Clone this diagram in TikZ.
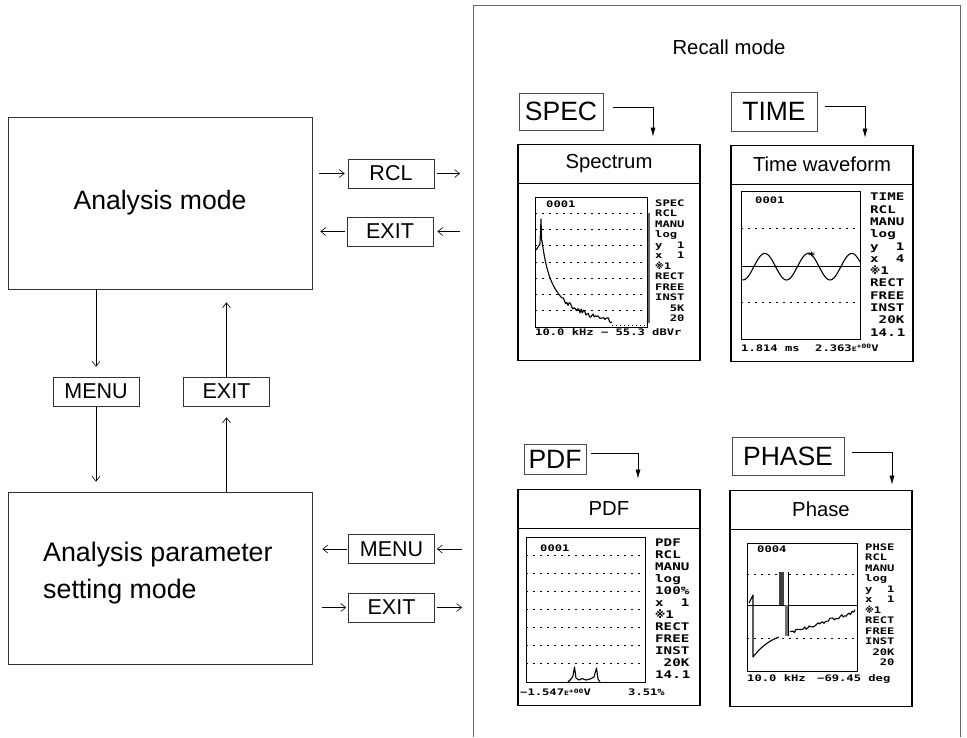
\documentclass[tikz,border=0pt]{standalone}
\usepackage{fontspec}
\setmainfont{Liberation Sans}
\newfontfamily\lcdfont[FakeStretch=1.35]{DejaVu Sans Mono}
\newfontfamily\markfont{DejaVu Sans}
\newcommand\refmark{{\markfont\bfseries ※}}
\usetikzlibrary{arrows.meta}
\begin{document}
\begin{tikzpicture}[x=1pt,y=-1pt,
  modebox/.style={draw=black!80,line width=.7pt,minimum width=304pt,minimum height=172pt,font=\fontsize{26.6}{37}\selectfont},
  keybox/.style={draw=black!80,line width=.7pt,minimum width=86pt,minimum height=29pt,inner sep=0pt,font=\fontsize{21.5}{24}\selectfont},
  bigkey/.style={draw=black!70,line width=.6pt,inner sep=0pt,font=\fontsize{26.5}{28}\selectfont},
  panel/.style={draw,line width=1.8pt,minimum width=182pt,minimum height=216pt,inner sep=0pt},
  titlebar/.style={draw,line width=.7pt,minimum width=182pt,minimum height=39pt,anchor=north,font=\fontsize{20.3}{22}\selectfont},
  lcd/.style={inner sep=0pt,anchor=base west,font=\lcdfont\bfseries\fontsize{#1}{#1}\selectfont},
  lcd/.default=9,
  arr/.style={-{Straight Barb[length=5pt,width=8pt]},line width=.6pt},
  keyarrow/.style={-{Latex[length=9pt,width=5pt]},line width=.6pt},
  lcdgrid/.style={dash pattern=on 1.5pt off 5.5pt,line width=.8pt},
  wave/.style={line width=1.1pt,line join=round}]
  \useasboundingbox (0,0) rectangle (967,737);
  \pgfmathsetseed{7}
  % left side: the two modes
  \node[modebox] (ana) at (160,203) {Analysis mode};
  \node[modebox] (par) at (160,578) {};
  \node[font=\fontsize{26.8}{37}\selectfont,align=left,anchor=west,inner sep=0pt] (partext) at (43,573) {Analysis parameter\\setting mode};
  \node[keybox] (rcl) at (391,173.5) {RCL};
  \node[keybox] (exa) at (390,231.5) {EXIT};
  \node[keybox] (menua) at (96,391.5) {MENU};
  \node[keybox] (exb) at (226.5,391.5) {EXIT};
  \node[keybox] (menub) at (391.5,549) {MENU};
  \node[keybox] (exc) at (391.5,607.5) {EXIT};
  % recall frame, open at the bottom
  \coordinate (fl) at (473,5);
  \draw[black!60,line width=.6pt] (473,737) -- (fl) -- (960,5) -- (960,737);
  \node[font=\fontsize{20.3}{22}\selectfont] (recall) at (729,47) {Recall mode};
  \draw[arr,shorten <=7pt,shorten >=3pt] (ana.east |- rcl) -- (rcl);
  \draw[arr,shorten <=3pt,shorten >=13pt] (rcl) -- (rcl -| fl);
  \draw[arr,shorten <=13pt,shorten >=4pt] (exa -| fl) -- (exa);
  \draw[arr,shorten <=2pt,shorten >=8pt] (exa) -- (ana.east |- exa);
  \draw[arr,shorten >=10pt] (ana.south -| menua) -- (menua);
  \draw[arr,shorten >=10pt] (menua) -- (par.north -| menua);
  \draw[arr,shorten >=11pt] (par.north -| exb) -- (exb);
  \draw[arr,shorten >=13pt] (exb) -- (ana.south -| exb);
  \draw[arr,shorten <=11pt,shorten >=2pt] (menub -| fl) -- (menub);
  \draw[arr,shorten <=1pt,shorten >=10pt] (menub) -- (par.east |- menub);
  \draw[arr,shorten <=10pt,shorten >=2pt] (par.east |- exc) -- (exc);
  \draw[arr,shorten <=2pt,shorten >=11pt] (exc) -- (exc -| fl);
  % the four screens
  \node[panel] (specp) at (609,252.5) {};
  \node[titlebar] (spect) at (specp.north) {Spectrum};
  \node[panel] (timep) at (822,253.5) {};
  \node[titlebar] (timet) at (timep.north) {Time waveform};
  \node[panel] (pdfp) at (609,597.5) {};
  \node[titlebar] (pdft) at (pdfp.north) {PDF};
  \node[panel] (phasep) at (821,598.5) {};
  \node[titlebar] (phaset) at (phasep.north) {Phase};
  \node[bigkey,minimum width=84pt,minimum height=37pt] (speck) at (561,111.5) {SPEC};
  \node[bigkey,minimum width=86pt,minimum height=39pt] (timek) at (774,111.5) {TIME};
  \node[bigkey,minimum width=62pt,minimum height=30pt] (pdfk) at (555,459) {PDF};
  \node[bigkey,minimum width=112pt,minimum height=38pt] (phasek) at (788,456) {PHASE};
  \draw[keyarrow,shorten <=10pt,shorten >=7pt] ([yshift=4pt]speck.east) -| ([xshift=44pt]specp.north);
  \draw[keyarrow,shorten <=8pt,shorten >=7pt] ([yshift=5pt]timek.east) -| ([xshift=43pt]timep.north);
  \draw[keyarrow,shorten <=5pt,shorten >=10pt] ([yshift=6pt]pdfk.east) -| ([xshift=29pt]pdfp.north);
  \draw[keyarrow,shorten <=8pt,shorten >=5pt] ([yshift=4pt]phasek.east) -| ([xshift=71pt]phasep.north);
  % spectrum screen
  \draw[line width=1pt] (535,197) rectangle (647,327);
  \foreach \k in {1,...,7} \draw[lcdgrid] (535,{197+\k*16.25}) -- (647,{197+\k*16.25});
  \draw[line width=2pt,black!60] (648.5,213) -- (648.5,323);
  \draw[wave] (536,250) -- (540,244) -- (541,219) -- (541.6,241)
    -- plot[domain=542:612,samples=60] (\x,{327-950/(\x-531)+0.08*(\x-541)+(\x>562)*2.2*rand});
  \draw[line width=.8pt,dash pattern=on 1pt off 3pt] (612,325) -- (645,325);
  \node[lcd] (specn) at (546,207.5) {0001};
  \foreach \t [count=\i] in {SPEC,RCL,MANU,log,y~~1,x~~1,\refmark1,RECT,FREE,INST,~~5K,~~20}
    \node[lcd] (spec\i) at (655,{206.3+(\i-1)*10.5}) {\t};
  \node[lcd] (specb) at (535,335.5) {10.0 kHz − 55.3 dBVr};
  % time waveform screen
  \draw[line width=1pt] (741,191) rectangle (860,339);
  \draw[lcdgrid] (741,228) -- (860,228) (741,302) -- (860,302);
  \draw[line width=1pt] (741,266.7) -- (860,266.7);
  \draw[wave] plot[domain=0:119,samples=90] ({741+\x},{266.7+13.3*cos(8.276*(\x-2))});
  \node[lcd=10] (star) at (807.5,259) {*};
  \node[lcd] (timen) at (755,203.3) {0001};
  \foreach \t [count=\i] in {TIME,RCL,MANU,log,y~~1,x~~4,\refmark1,RECT,FREE,INST,~20K,14.\kern1pt1}
    \node[lcd=10.5] (time\i) at (870,{200.8+(\i-1)*12.3}) {\t};
  \node[lcd] (timeb) at (741,351) {1.814 ms};
  \node[lcd] (timec) at (815,351) {2.363{\fontsize{6}{6}\selectfont E\raisebox{2.5pt}{+00}}V};
  % pdf screen
  \draw[line width=1pt] (526,537) rectangle (645,682);
  \foreach \k in {1,...,7} \draw[lcdgrid] (526,{537+\k*18.125}) -- (645,{537+\k*18.125});
  \draw[wave] (568,682) -- (571,679) -- (573,676) -- (574.5,667) -- (576,678) -- (579,680) -- (582,678.5)
    -- (586,680) -- (590,679) -- (594,677) -- (596.5,668) -- (598,679) -- (600,682);
  \node[lcd] (pdfn) at (540,551) {0001};
  \foreach \t [count=\i] in {PDF,RCL,MANU,log,100\%,x~~1,\refmark1,RECT,FREE,INST,~20K,14.\kern1pt1}
    \node[lcd=10.5] (pdf\i) at (655,{546.8+(\i-1)*12}) {\t};
  \node[lcd] (pdfb) at (520,695.5) {−1.547{\fontsize{6}{6}\selectfont E\raisebox{2.5pt}{+00}}V};
  \node[lcd] (pdfc) at (628,695.5) {3.51\%};
  % phase screen
  \draw[line width=1pt] (747,543) rectangle (857,671);
  \draw[lcdgrid] (747,574) -- (857,574) (747,638.3) -- (857,638.3);
  \draw[line width=1pt] (747,605) -- (857,605);
  \fill[black!75] (779.3,571.7) rectangle (784,605);
  \fill[black!55] (785,605) rectangle (789.3,636);
  \draw[wave] (749,603) -- (753,595) -- (753,657) .. controls (760,648) and (768,641) .. (779,637);
  \draw[wave] (788.3,571.7) -- (788.3,636);
  \draw[wave] plot[domain=790:855,samples=45] (\x,{633-(\x-790)*0.33+1.8*rand});
  \node[lcd] (phasen) at (757,552.3) {0004};
  \foreach \t [count=\i] in {PHSE,RCL,MANU,log,y~~1,x~~1,\refmark1,RECT,FREE,INST,~20K,~~20}
    \node[lcd] (phase\i) at (865,{550.3+(\i-1)*10.5}) {\t};
  \node[lcd] (phaseb) at (747,681.5) {10.0 kHz};
  \node[lcd] (phasec) at (817,681.5) {−69.45 deg};
\end{tikzpicture}
\end{document}
